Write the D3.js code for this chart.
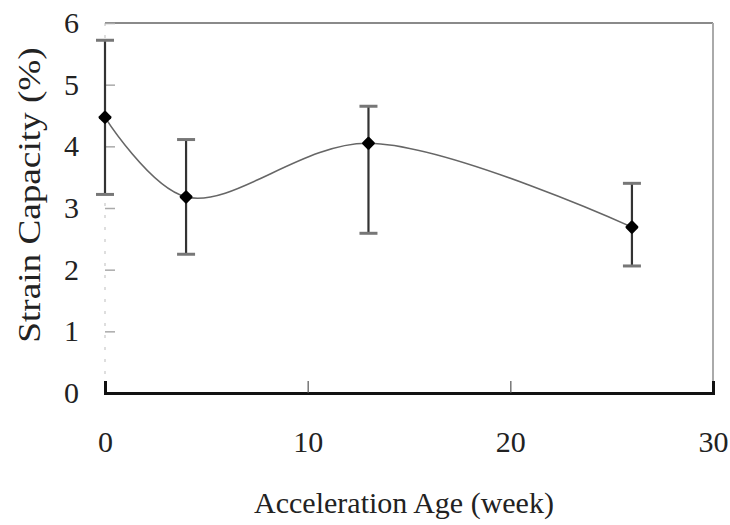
<!DOCTYPE html>
<html>
<head>
<meta charset="utf-8">
<script src="https://cdn.jsdelivr.net/npm/d3@7"></script>
<style>
  html, body { margin: 0; padding: 0; background: #fff; }
  svg { display: block; }
  text { font-family: "Liberation Serif", "DejaVu Serif", serif; fill: #222; }
</style>
</head>
<body>
<div id="chart"></div>
<script>
// ---- data ----
const weeks = [0, 4, 13, 26];
const strain = [4.47, 3.18, 4.05, 2.69];
const upper = [5.72, 4.11, 4.65, 3.40];
const lower = [3.22, 2.25, 2.59, 2.06];
const xTicks = [0, 10, 20, 30];
const yTicks = [0, 1, 2, 3, 4, 5, 6];
const xTitle = "Acceleration Age (week)";
const yTitle = "Strain Capacity (%)";

const W = 730, H = 525;
const m = { left: 105, right: 17, top: 23, bottom: 132 };
const iw = W - m.left - m.right, ih = H - m.top - m.bottom;

const svg = d3.select("#chart").append("svg").attr("width", W).attr("height", H);
const g = svg.append("g").attr("transform", `translate(${m.left},${m.top})`);

const x = d3.scaleLinear().domain([0, 30]).range([0, iw]);
const y = d3.scaleLinear().domain([0, 6]).range([ih, 0]);

// frame: top & right borders
g.append("line").attr("x1", 0).attr("x2", iw).attr("y1", 0).attr("y2", 0)
  .attr("stroke", "#8a8a8a").attr("stroke-width", 2);
g.append("line").attr("x1", iw).attr("x2", iw).attr("y1", 0).attr("y2", ih)
  .attr("stroke", "#aaa").attr("stroke-width", 2);
// left axis (faint, dashed)
g.append("line").attr("x1", 0).attr("x2", 0).attr("y1", 0).attr("y2", ih)
  .attr("stroke", "#d4d4d4").attr("stroke-width", 1.5).attr("stroke-dasharray", "3,9");

// y axis ticks & labels
const yAxis = d3.axisLeft(y).tickValues(yTicks).tickSize(-10).tickPadding(26).tickFormat(d3.format("d"));
const ya = g.append("g").call(yAxis);
ya.select(".domain").remove();
ya.selectAll(".tick line").attr("stroke", "#aaa").attr("stroke-width", 1.5);
ya.selectAll(".tick text").attr("font-size", 30).attr("fill", "#222")
  .attr("font-family", "Liberation Serif, serif");

// x axis
const xAxis = d3.axisBottom(x).tickValues(xTicks).tickSize(-12).tickPadding(38).tickFormat(d3.format("d"));
const xa = g.append("g").attr("transform", `translate(0,${ih})`).call(xAxis);
xa.select(".domain").attr("stroke", "#111").attr("stroke-width", 3);
xa.selectAll(".tick line").attr("stroke", "#555").attr("stroke-width", 1.2)
  .filter(d => d === 0 || d === 30).remove();
xa.selectAll(".tick text").attr("font-size", 30).attr("fill", "#222")
  .attr("font-family", "Liberation Serif, serif");

// titles
svg.append("text").attr("x", m.left + iw / 2 - 5).attr("y", 513)
  .attr("text-anchor", "middle").attr("font-size", 30).text(xTitle);
svg.append("text").attr("transform", `translate(40,195) rotate(-90) scale(1.2,1)`)
  .attr("text-anchor", "middle").attr("font-size", 31).text(yTitle);

const pts = weeks.map((w, i) => ({ w, v: strain[i], hi: upper[i], lo: lower[i] }));

// smooth line
const line = d3.line().x(d => x(d.w)).y(d => y(d.v)).curve(d3.curveCatmullRom.alpha(0.5));
g.append("path").datum(pts).attr("d", line)
  .attr("fill", "none").attr("stroke", "#666").attr("stroke-width", 1.6);

// error bars
const eb = g.append("g").selectAll("g").data(pts).join("g");
eb.append("line").attr("x1", d => x(d.w)).attr("x2", d => x(d.w))
  .attr("y1", d => y(d.hi)).attr("y2", d => y(d.lo))
  .attr("stroke", "#333").attr("stroke-width", 2.2);
eb.append("line").attr("x1", d => x(d.w) - 9).attr("x2", d => x(d.w) + 9)
  .attr("y1", d => y(d.hi)).attr("y2", d => y(d.hi))
  .attr("stroke", "#777").attr("stroke-width", 3);
eb.append("line").attr("x1", d => x(d.w) - 9).attr("x2", d => x(d.w) + 9)
  .attr("y1", d => y(d.lo)).attr("y2", d => y(d.lo))
  .attr("stroke", "#777").attr("stroke-width", 3);

// markers (rounded diamonds)
g.append("g").selectAll("rect").data(pts).join("rect")
  .attr("x", -5).attr("y", -5).attr("width", 10).attr("height", 10).attr("rx", 1.5)
  .attr("transform", d => `translate(${x(d.w)},${y(d.v)}) rotate(45)`)
  .attr("fill", "#000");
</script>
</body>
</html>
